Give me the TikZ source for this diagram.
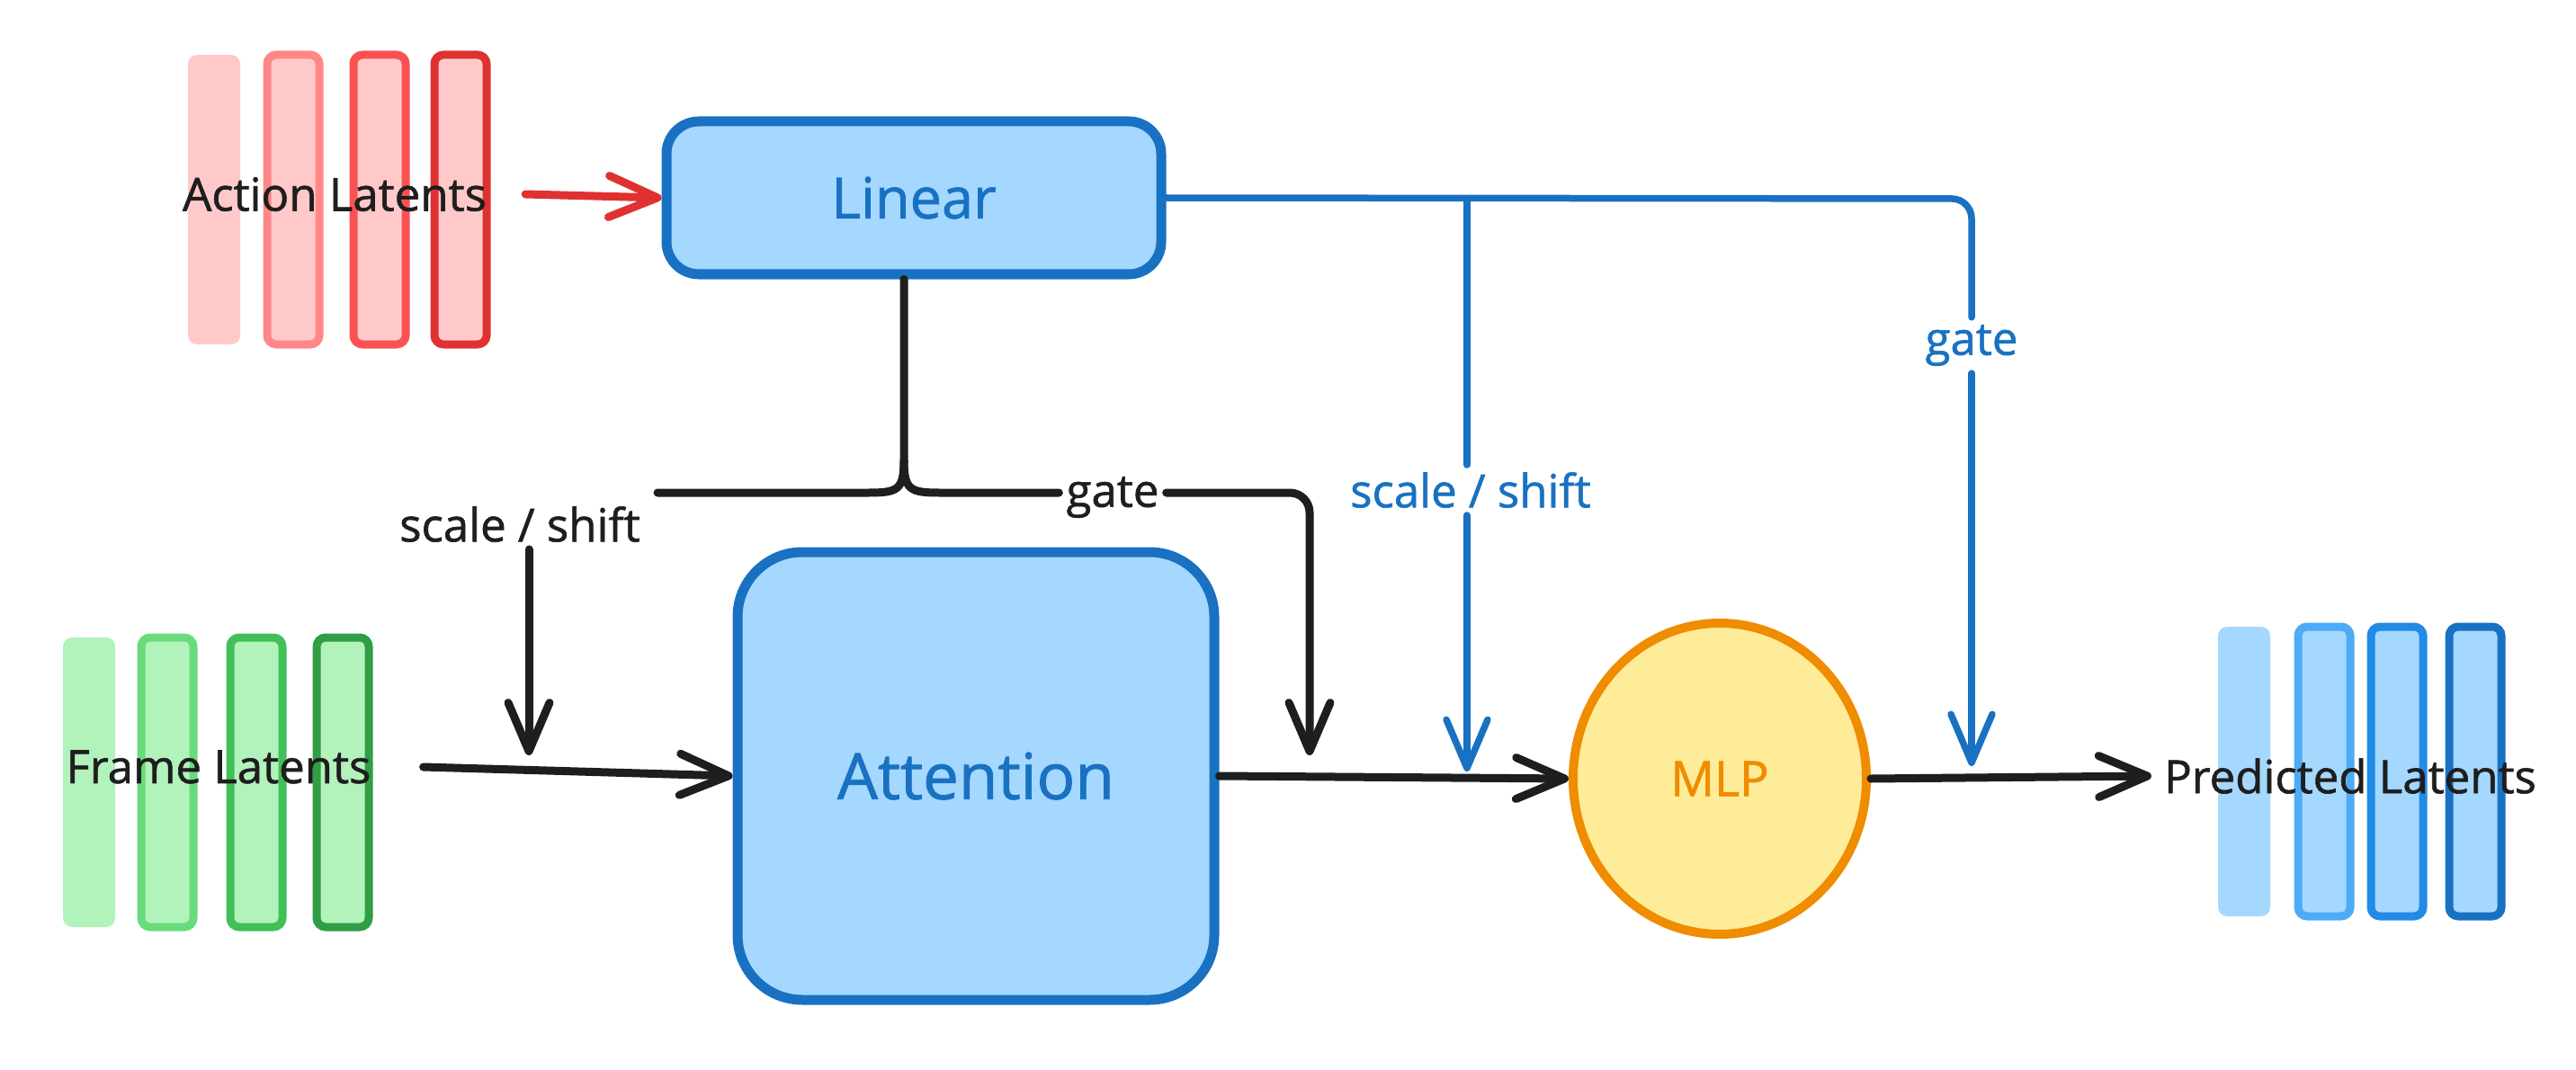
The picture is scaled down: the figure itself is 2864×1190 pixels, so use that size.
\documentclass[tikz,border=0pt]{standalone}
\usepackage{fontspec}
\setmainfont{Open Sans}[FakeBold=1.2]
\usetikzlibrary{arrows.meta,shapes.geometric}

\definecolor{ink}{HTML}{1E1E1E}
\definecolor{blu}{HTML}{1971C2}
\definecolor{blufill}{HTML}{A5D8FF}
\definecolor{bluB}{HTML}{4DABF7}
\definecolor{bluC}{HTML}{228BE6}
\definecolor{redD}{HTML}{E03131}
\definecolor{redB}{HTML}{FF8787}
\definecolor{redC}{HTML}{FA5252}
\definecolor{redfill}{HTML}{FFC9C9}
\definecolor{grnfill}{HTML}{B2F2BB}
\definecolor{grnB}{HTML}{69DB7C}
\definecolor{grnC}{HTML}{40C057}
\definecolor{grnD}{HTML}{2F9E44}
\definecolor{orng}{HTML}{F08C00}
\definecolor{yel}{HTML}{FFEC99}

\tikzset{
  bar/.style={rectangle, rounded corners=10pt, minimum width=58pt,
    minimum height=322pt, inner sep=0pt, line width=9pt},
  box/.style={rectangle, draw=blu, fill=blufill, line width=11pt, text=blu},
  lbl/.style={font=\fontsize{51}{60}\selectfont, text=ink, inner sep=8pt},
  wire/.style={line width=9pt, ink, line cap=round},
  bwire/.style={line width=7.5pt, blu, line cap=round},
}

\begin{document}
\begin{tikzpicture}[x=1pt, y=-1pt, >={Straight Barb[length=54pt,width=46pt,round]}]
    \useasboundingbox (0,0) rectangle (2864,1190);

    \node[bar, fill=redfill] (a1) at (238,222) {};
    \node[bar, fill=redfill, draw=redB] (a2) at (326,222) {};
    \node[bar, fill=redfill, draw=redC] (a3) at (422,222) {};
    \node[bar, fill=redfill, draw=redD] (a4) at (512,222) {};
    \node[lbl] (al) at (372,216) {Action Latents};

    \node[bar, fill=grnfill] (f1) at (99,870) {};
    \node[bar, fill=grnfill, draw=grnB] (f2) at (186,870) {};
    \node[bar, fill=grnfill, draw=grnC] (f3) at (285,870) {};
    \node[bar, fill=grnfill, draw=grnD] (f4) at (381,870) {};
    \node[lbl] (fl) at (243,853) {Frame Latents};

    \node[bar, fill=blufill] (p1) at (2495,858) {};
    \node[bar, fill=blufill, draw=bluB] (p2) at (2584,858) {};
    \node[bar, fill=blufill, draw=bluC] (p3) at (2665,858) {};
    \node[bar, fill=blufill, draw=blu] (p4) at (2752,858) {};
    \node[lbl] (pl) at (2613,863) {Predicted Latents};

    \node[box, rounded corners=36pt, minimum width=550pt, minimum height=170pt,
      font=\fontsize{63}{72}\selectfont] (lin) at (1016,220) {Linear};
    \node[box, rounded corners=72pt, minimum width=530pt, minimum height=498pt,
      font=\fontsize{71}{80}\selectfont] (att) at (1085,863) {Attention};
    \node[ellipse, draw=orng, fill=yel, line width=10pt, minimum width=326pt,
      minimum height=346pt, text=orng, font=\fontsize{54}{62}\selectfont] (mlp) at (1912,866) {MLP};

    \node[lbl] (ssk) at (578,583) {scale / shift};
    \node[lbl] (gk) at (1237,553) {gate};
    \node[lbl, text=blu] (ssb) at (1635,545) {scale / shift};
    \node[lbl, text=blu] (gb) at (2192,384) {gate};

    \coordinate (fork) at (1005,512);
    \coordinate (armL) at (731,548);
    \coordinate (k1) at (1631,221);
    \coordinate (j1) at (588,840);
    \coordinate (j2) at (1456,840);
    \coordinate (j3) at (1631,858);
    \coordinate (j4) at (2192,852);

    \draw[->, line width=9pt, redD, line cap=round] ([xshift=35pt]al.east) -- (lin.west);
    \draw[wire, ->] ([xshift=50pt]fl.east) -- (att.west);
    \draw[wire, ->] (att.east) -- (mlp.west);
    \draw[wire, ->] (mlp.east) -- ([xshift=-6pt]pl.west);

    \draw[wire] (lin.south -| fork) -- (fork)
      .. controls (1005,545) and (1012,548) .. (1045,548) -- (gk.west |- 0,548);
    \draw[wire] (fork) .. controls (1005,545) and (998,548) .. (965,548) -- (armL);
    \draw[wire, ->, rounded corners=22pt] (gk.east |- 0,548) -- (1456,548) -- (j2);
    \draw[wire, ->] (ssk.south -| j1) -- (j1);

    \draw[bwire, rounded corners=22pt] (lin.east) -- (2192,221) -- (gb.north);
    \draw[bwire, ->] (gb.south) -- (j4);
    \draw[bwire] (k1) -- (ssb.north -| k1);
    \draw[bwire, ->] (ssb.south -| k1) -- (j3);
\end{tikzpicture}
\end{document}
